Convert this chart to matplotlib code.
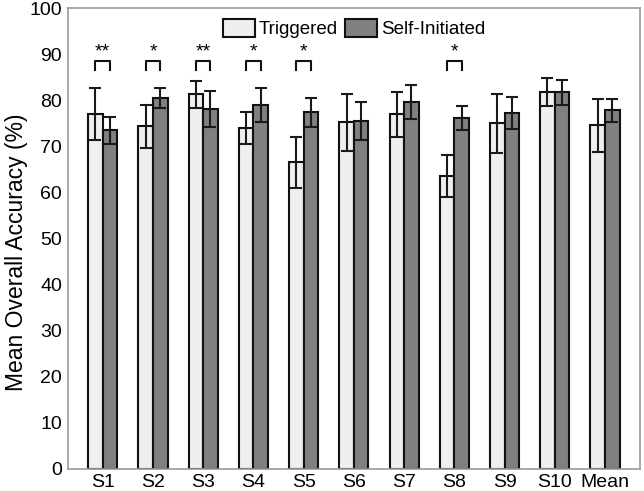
import matplotlib.pyplot as plt
import numpy as np

plt.rcParams["font.family"] = ["Liberation Sans", "DejaVu Sans"]

categories = ["S1", "S2", "S3", "S4", "S5", "S6", "S7", "S8", "S9", "S10", "Mean"]
triggered = [77.0, 74.4, 81.3, 74.0, 66.6, 75.3, 77.0, 63.6, 75.1, 81.8, 74.6]
triggered_err = [5.6, 4.7, 2.9, 3.5, 5.5, 6.2, 4.9, 4.5, 6.4, 3.0, 5.7]
self_init = [73.5, 80.5, 78.1, 79.0, 77.4, 75.5, 79.6, 76.1, 77.2, 81.8, 77.9]
self_init_err = [2.9, 2.2, 3.9, 3.6, 3.2, 4.1, 3.7, 2.6, 3.5, 2.7, 2.5]
significance = {0: "**", 1: "*", 2: "**", 3: "*", 4: "*", 7: "*"}

x = np.arange(len(categories))
w = 0.29

fig, ax = plt.subplots(figsize=(6.44, 4.91), dpi=100)
fig.subplots_adjust(left=0.105, right=0.994, top=0.983, bottom=0.045)

ekw = dict(elinewidth=1.5, capthick=1.5, ecolor="#1a1a1a")
ax.bar(x - w / 2, triggered, w, yerr=triggered_err, capsize=4,
       color="#efefef", edgecolor="#111111", linewidth=1.5,
       label="Triggered", error_kw=ekw)
ax.bar(x + w / 2, self_init, w, yerr=self_init_err, capsize=4,
       color="#808080", edgecolor="#111111", linewidth=1.5,
       label="Self-Initiated", error_kw=ekw)

# significance brackets
for i, stars in significance.items():
    ax.plot([i - w / 2, i - w / 2, i + w / 2, i + w / 2],
            [86.6, 88.5, 88.5, 86.6], color="#111111", lw=1.5)
    ax.text(i, 88.7, stars, ha="center", va="bottom", fontsize=14)

ax.set_xlim(-0.7, len(categories) - 0.3)
ax.set_ylim(0, 100)
ax.set_yticks(range(0, 101, 10))
ax.set_xticks(x)
ax.set_xticklabels(categories)
ax.tick_params(length=0, labelsize=14, pad=4)
ax.set_ylabel("Mean Overall Accuracy (%)", fontsize=16.5)
ax.yaxis.set_label_coords(-0.07, 0.47)
for s in ax.spines.values():
    s.set_color("#999999")
    s.set_linewidth(1.2)

ax.legend(loc="upper center", ncol=2, frameon=False, fontsize=13.5,
          handlelength=1.7, handleheight=1.1, handletextpad=0.2,
          columnspacing=0.4, borderaxespad=0.15, bbox_to_anchor=(0.5, 1.0))

fig.savefig("out.png")
